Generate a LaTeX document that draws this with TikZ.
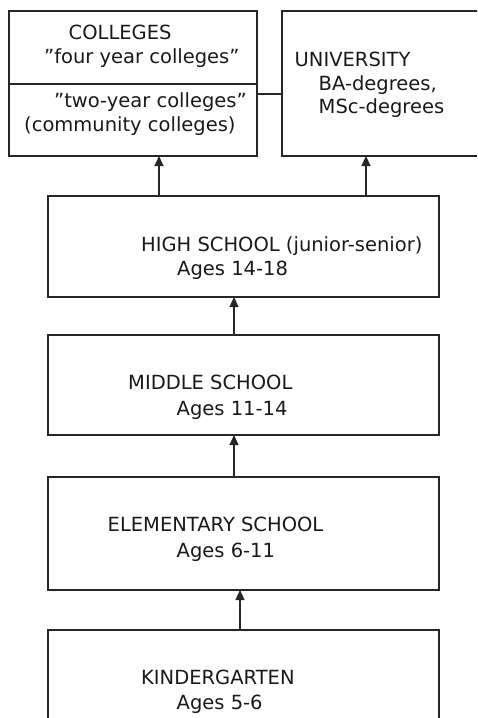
\documentclass[tikz,border=0pt]{standalone}
\usepackage{fontspec}
\setmainfont{DejaVu Sans}
\usetikzlibrary{arrows.meta}
\begin{document}
\begin{tikzpicture}[x=1pt,y=1pt,
  box/.style={draw=black!85, line width=1.2pt, anchor=north west, inner sep=0pt, outer sep=0pt},
  txt/.style={anchor=base west, inner sep=0pt, text=black!90, font=\fontsize{19.5}{24}\selectfont},
  link/.style={draw=black!85, line width=1.2pt},
  up/.style={link, -{Triangle[length=10pt,width=9pt]}}
]
\useasboundingbox (0,0) rectangle (477,-718);
\clip (0,0) rectangle (477,-718);

% boxes
\node[box, minimum width=248pt, minimum height=145pt] (col) at (9,-11) {};
\node[box, minimum width=260pt, minimum height=145pt] (uni) at (282,-11) {};
\node[box, minimum width=391pt, minimum height=101pt] (hs) at (48,-196) {};
\node[box, minimum width=391pt, minimum height=100pt] (ms) at (48,-335) {};
\node[box, minimum width=391pt, minimum height=113pt] (es) at (48,-477) {};
\node[box, minimum width=391pt, minimum height=140pt] (kg) at (48,-630) {};

% divider inside the colleges box
\coordinate (dv) at (0,-84);
\draw[link] (col.west |- dv) -- (col.east |- dv);

% link between colleges and university
\coordinate (lk) at (0,-94);
\draw[link] (col.east |- lk) -- (uni.west |- lk);

% arrows
\coordinate (a1) at (159,0);
\coordinate (a2) at (366,0);
\coordinate (a3) at (234,0);
\coordinate (a4) at (240,0);
\draw[up] (a1 |- hs.north) -- (a1 |- col.south);
\draw[up] (a2 |- hs.north) -- (a2 |- uni.south);
\draw[up] (a3 |- ms.north) -- (a3 |- hs.south);
\draw[up] (a3 |- es.north) -- (a3 |- ms.south);
\draw[up] (a4 |- kg.north) -- (a4 |- es.south);

% texts
\node[txt] (t1) at (68.5,-39.5) {COLLEGES};
\node[txt] (t2) at (44,-63.5) {”four year colleges”};
\node[txt] (t3) at (54,-107.5) {”two-year colleges”};
\node[txt] (t4) at (24,-131.5) {(community colleges)};

\node[txt] (u1) at (294.5,-66.5) {UNIVERSITY};
\node[txt] (u2) at (318.5,-90) {BA-degrees,};
\node[txt] (u3) at (318.5,-113.5) {MSc-degrees};

\node[txt] (h1) at (141,-251) {HIGH SCHOOL (junior-senior)};
\node[txt] (h2) at (177,-275) {Ages 14-18};

\node[txt] (m1) at (128,-389.5) {MIDDLE SCHOOL};
\node[txt] (m2) at (176.5,-415) {Ages 11-14};

\node[txt] (e1) at (107.5,-531) {ELEMENTARY SCHOOL};
\node[txt] (e2) at (176.5,-557) {Ages 6-11};

\node[txt] (k1) at (141,-684) {KINDERGARTEN};
\node[txt] (k2) at (176.5,-709) {Ages 5-6};
\end{tikzpicture}
\end{document}
